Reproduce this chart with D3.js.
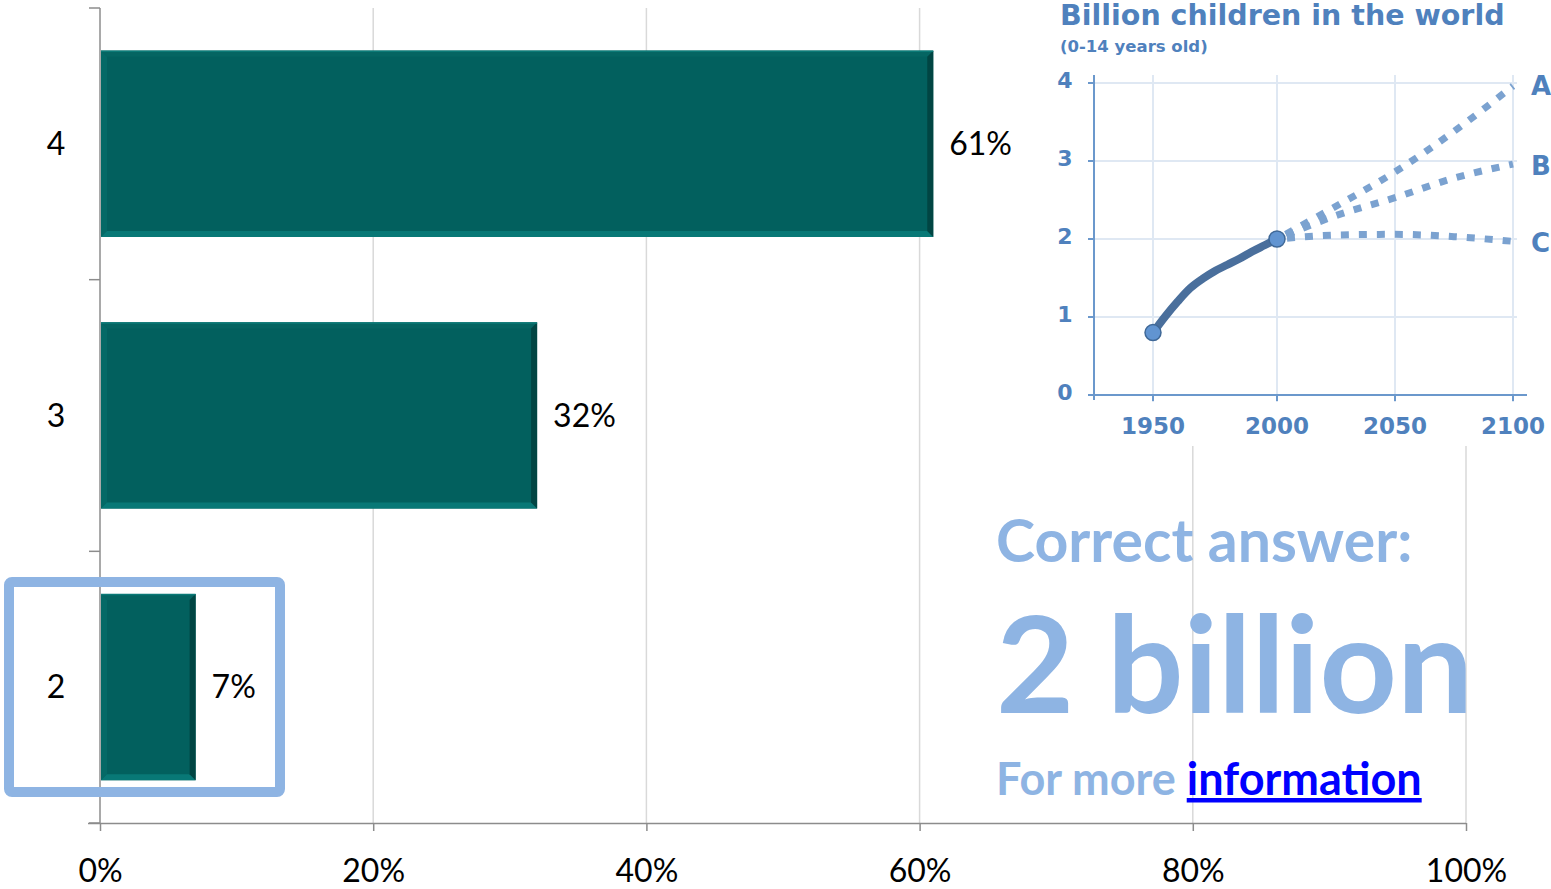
<!DOCTYPE html>
<html>
<head>
<meta charset="utf-8">
<script src="https://cdn.jsdelivr.net/npm/d3@7"></script>
<style>
  body { margin: 0; background: #fff; }
  svg { display: block; }
</style>
</head>
<body>
<div id="chart"></div>
<script>
// main bar chart data
var categories = ["4", "3", "2"];
var shares = [0.61, 0.32, 0.07];
var xTicks = [0, 0.2, 0.4, 0.6, 0.8, 1];

// inset line chart data
var histYears = [1950, 1955, 1960, 1965, 1970, 1975, 1980, 1985, 1990, 1995, 2000];
var histValues = [0.8, 1.01, 1.2, 1.37, 1.49, 1.59, 1.67, 1.75, 1.84, 1.92, 2.0];
var projYears = [2000, 2025, 2050, 2075, 2100];
var projA = [2.0, 2.42, 2.86, 3.38, 3.96];
var projB = [2.0, 2.3, 2.53, 2.78, 2.96];
var projC = [2.0, 2.05, 2.06, 2.03, 1.97];
var projNames = ["A", "B", "C"];
var insetYearTicks = [1950, 2000, 2050, 2100];
var insetValueTicks = [0, 1, 2, 3, 4];

var W = 1551, H = 889;
var svg = d3.select("#chart").append("svg").attr("width", W).attr("height", H);

var x = d3.scaleLinear().domain([0, 1]).range([100, 1466]);
var y = d3.scaleBand().domain(categories).range([8, 823])
    .paddingInner(0.315).paddingOuter(0.1575);

// gridlines
svg.append("g").selectAll("line").data(xTicks.slice(1)).enter().append("line")
    .attr("x1", function (d) { return x(d); })
    .attr("x2", function (d) { return x(d); })
    .attr("y1", 8).attr("y2", 823)
    .attr("stroke", "#d9d9d9").attr("stroke-width", 1.5);

// bottom axis
var xAxis = svg.append("g")
    .attr("transform", "translate(0,823)")
    .call(d3.axisBottom(x).tickValues(xTicks).tickFormat(d3.format(".0%")).tickSize(8).tickSizeOuter(0));
xAxis.select(".domain").attr("stroke", "#8c8c8c").attr("stroke-width", 1.5)
    .attr("d", "M88,0.5H1466");
xAxis.selectAll(".tick line").attr("stroke", "#8c8c8c").attr("stroke-width", 1.5);
xAxis.selectAll(".tick text")
    .attr("y", 59).attr("dy", 0)
    .attr("fill", "#000")
    .style("font-family", "Lato, 'Open Sans', sans-serif")
    .style("font-size", "32px");

// left axis
svg.append("line").attr("x1", 100).attr("x2", 100).attr("y1", 8).attr("y2", 823)
    .attr("stroke", "#8c8c8c").attr("stroke-width", 1.5);
var bandEdges = categories.map(function (d) { return y(d) - y.step() * y.paddingInner() / 2; });
bandEdges.push(823);
svg.append("g").selectAll("line").data(bandEdges).enter().append("line")
    .attr("x1", 89).attr("x2", 100)
    .attr("y1", function (d) { return d; }).attr("y2", function (d) { return d; })
    .attr("stroke", "#8c8c8c").attr("stroke-width", 1.5);
svg.append("g").selectAll("text").data(categories).enter().append("text")
    .attr("x", 56)
    .attr("y", function (d) { return y(d) + y.bandwidth() / 2; })
    .attr("dy", "0.35em")
    .attr("text-anchor", "middle")
    .style("font-family", "Lato, 'Open Sans', sans-serif")
    .style("font-size", "32px")
    .text(function (d) { return d; });

// bars with bevel
var bv = 6;
var bars = svg.append("g").selectAll("g").data(shares).enter().append("g");
bars.each(function (d, i) {
    var g = d3.select(this);
    var x0 = x(0) + 1, x1 = x(d), y0 = y(categories[i]), y1 = y0 + y.bandwidth();
    g.append("rect").attr("x", x0).attr("y", y0).attr("width", x1 - x0).attr("height", y1 - y0)
        .attr("fill", "#02605e");
    var polys = [
        { c: "#056562", p: [[x0, y0], [x1, y0], [x1 - bv, y0 + bv], [x0 + bv, y0 + bv]] },
        { c: "#046966", p: [[x0, y0], [x0 + bv, y0 + bv], [x0 + bv, y1 - bv], [x0, y1]] },
        { c: "#087876", p: [[x0, y1], [x0 + bv, y1 - bv], [x1 - bv, y1 - bv], [x1, y1]] },
        { c: "#014543", p: [[x1, y0], [x1, y1], [x1 - bv, y1 - bv], [x1 - bv, y0 + bv]] }
    ];
    polys.forEach(function (q) {
        g.append("polygon").attr("points", q.p.map(function (pt) { return pt.join(","); }).join(" "))
            .attr("fill", q.c);
    });
    g.append("line").attr("x1", x0).attr("x2", x1).attr("y1", y0 + 0.5).attr("y2", y0 + 0.5)
        .attr("stroke", "#0b7a77").attr("stroke-width", 1.5);
    g.append("text")
        .attr("x", x1 + 16)
        .attr("y", (y0 + y1) / 2)
        .attr("dy", "0.35em")
        .style("font-family", "Lato, 'Open Sans', sans-serif")
        .style("font-size", "32px")
        .text(d3.format(".0%")(d));
});

// highlight box around the correct answer
svg.append("rect")
    .attr("x", 9).attr("y", 582).attr("width", 271).attr("height", 210)
    .attr("rx", 3)
    .attr("fill", "none").attr("stroke", "#8eb4e3").attr("stroke-width", 10);

// ---------- inset chart ----------
var insetBlue = "#4f81bd";
var insetFont = "'DejaVu Sans', Verdana, sans-serif";
svg.append("rect").attr("x", 1030).attr("y", 0).attr("width", 521).attr("height", 446).attr("fill", "#fff");

var ix = d3.scaleLinear().domain([1950, 2000, 2100]).range([1153, 1277, 1513]);
var iy = d3.scaleLinear().domain([0, 4]).range([395, 83]);

svg.append("text").attr("x", 1060).attr("y", 25)
    .attr("fill", insetBlue)
    .style("font-family", insetFont).style("font-weight", "bold").style("font-size", "28.5px")
    .text("Billion children in the world");
svg.append("text").attr("x", 1060).attr("y", 52)
    .attr("fill", insetBlue)
    .style("font-family", insetFont).style("font-weight", "bold").style("font-size", "16.5px")
    .text("(0-14 years old)");

var ig = svg.append("g");
ig.selectAll(".vg").data(insetYearTicks).enter().append("line")
    .attr("x1", function (d) { return ix(d); }).attr("x2", function (d) { return ix(d); })
    .attr("y1", 75).attr("y2", 402)
    .attr("stroke", "#dfe8f3").attr("stroke-width", 2);
ig.selectAll(".hg").data(insetValueTicks.slice(1)).enter().append("line")
    .attr("x1", 1094).attr("x2", 1517)
    .attr("y1", function (d) { return iy(d); }).attr("y2", function (d) { return iy(d); })
    .attr("stroke", "#dfe8f3").attr("stroke-width", 2);

// inset axes
ig.append("line").attr("x1", 1094).attr("x2", 1094).attr("y1", 75).attr("y2", 400)
    .attr("stroke", "#6b98cc").attr("stroke-width", 2);
ig.append("line").attr("x1", 1092).attr("x2", 1527).attr("y1", iy(0)).attr("y2", iy(0))
    .attr("stroke", "#6b98cc").attr("stroke-width", 2);
ig.selectAll(".yt").data(insetValueTicks).enter().append("line")
    .attr("x1", 1088).attr("x2", 1094)
    .attr("y1", function (d) { return iy(d); }).attr("y2", function (d) { return iy(d); })
    .attr("stroke", "#6b98cc").attr("stroke-width", 2);
ig.selectAll(".xt").data(insetYearTicks).enter().append("line")
    .attr("x1", function (d) { return ix(d); }).attr("x2", function (d) { return ix(d); })
    .attr("y1", iy(0)).attr("y2", iy(0) + 6)
    .attr("stroke", "#6b98cc").attr("stroke-width", 2);
ig.selectAll(".yl").data(insetValueTicks).enter().append("text")
    .attr("x", 1065).attr("y", function (d) { return iy(d) - 3; }).attr("dy", "0.35em")
    .attr("text-anchor", "middle").attr("fill", insetBlue)
    .style("font-family", insetFont).style("font-weight", "bold").style("font-size", "22px")
    .text(function (d) { return d; });
ig.selectAll(".xl").data(insetYearTicks).enter().append("text")
    .attr("x", function (d) { return ix(d); }).attr("y", 426).attr("dy", "0.35em")
    .attr("text-anchor", "middle").attr("fill", insetBlue)
    .style("font-family", insetFont).style("font-weight", "bold").style("font-size", "23px")
    .text(function (d) { return d; });

// projections
var line = d3.line().curve(d3.curveMonotoneX)
    .x(function (d) { return ix(d[0]); }).y(function (d) { return iy(d[1]); });
[projA, projB, projC].forEach(function (vals, k) {
    var pts = projYears.map(function (yr, j) { return [yr, vals[j]]; });
    ig.append("path").attr("d", line(pts))
        .attr("fill", "none").attr("stroke", "#7ba2d0").attr("stroke-width", 7)
        .attr("stroke-dasharray", "8,10").attr("stroke-dashoffset", -10);
    ig.append("text")
        .attr("x", 1531).attr("y", iy(vals[vals.length - 1]) + (k === 0 ? 0 : 2)).attr("dy", "0.35em")
        .attr("fill", insetBlue)
        .style("font-family", insetFont).style("font-weight", "bold").style("font-size", "26px")
        .text(projNames[k]);
});

// historical line
var histPts = histYears.map(function (yr, j) { return [yr, histValues[j]]; });
ig.append("path").attr("d", line(histPts))
    .attr("fill", "none").attr("stroke", "#4a6f9c").attr("stroke-width", 8).attr("stroke-linecap", "round");
ig.selectAll("circle").data([histPts[0], histPts[histPts.length - 1]]).enter().append("circle")
    .attr("cx", function (d) { return ix(d[0]); }).attr("cy", function (d) { return iy(d[1]); })
    .attr("r", 8).attr("fill", "#6194d1").attr("stroke", "#3f6897").attr("stroke-width", 1.5);

// answer text
var answerColor = "#8eb4e3";
svg.append("text").attr("x", 996).attr("y", 562)
    .attr("fill", answerColor)
    .style("font-family", "Lato, sans-serif").style("font-weight", "bold").style("font-size", "59px")
    .text("Correct answer:");
svg.append("text").attr("x", 996).attr("y", 713)
    .attr("fill", answerColor)
    .style("font-family", "Lato, sans-serif").style("font-weight", "bold").style("font-size", "135px")
    .text("2 billion");
var more = svg.append("text").attr("x", 996).attr("y", 795)
    .style("font-family", "Lato, sans-serif").style("font-weight", "bold").style("font-size", "45px");
more.append("tspan").attr("fill", answerColor).text("For more ");
more.append("tspan").attr("fill", "#0000ff").attr("text-decoration", "underline").text("information");
</script>
</body>
</html>
